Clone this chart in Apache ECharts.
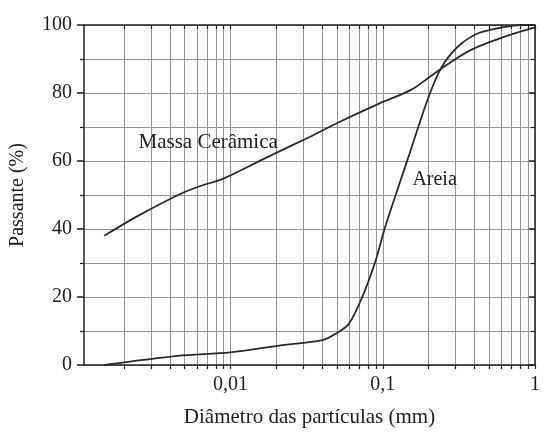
<!DOCTYPE html>
<html>
<head>
<meta charset="utf-8">
<script src="https://cdn.jsdelivr.net/npm/echarts@6/dist/echarts.min.js"></script>
<style>
html,body{margin:0;padding:0;background:#fff;}
#chart{width:543px;height:433px;}
</style>
</head>
<body>
<div id="chart"></div>
<script>
// ---- data ----
var massaX = [0.00148, 0.0025, 0.00468, 0.0065, 0.00896, 0.0172, 0.0328, 0.0515, 0.0938, 0.1545, 0.2, 0.264, 0.38, 0.626, 1];
var massaY = [38.0, 44.0, 50.3, 52.8, 54.8, 61.0, 67.0, 71.4, 76.8, 81.0, 84.5, 88.3, 92.7, 96.5, 99.3];
var areiaX = [0.00148, 0.0045, 0.01, 0.0209, 0.0401, 0.049, 0.0598, 0.073, 0.0892, 0.1026, 0.1205, 0.147, 0.198, 0.242, 0.311, 0.42, 0.626, 0.8, 1];
var areiaY = [0, 2.7, 3.7, 5.7, 7.3, 9.2, 12.1, 19.8, 30.3, 39.9, 49.5, 61.0, 78.3, 87.4, 93.6, 97.5, 99.4, 100, 100];
var seriesNames = ['Massa Cerâmica', 'Areia'];
var xLabelValues = [0.01, 0.1, 1];
var xLabelTexts = ['0,01', '0,1', '1'];
var xGridValues = [0.002,0.003,0.004,0.005,0.006,0.007,0.008,0.009,0.01,
                   0.02,0.03,0.04,0.05,0.06,0.07,0.08,0.09,0.1,
                   0.2,0.3,0.4,0.5,0.6,0.7,0.8,0.9,1];
var xName = 'Diâmetro das partículas (mm)';
var yName = 'Passante (%)';
// label anchor positions (data space)
var massaLabelAt = [0.00713, 65.3];
var areiaLabelAt = [0.219, 54.4];

function pairs(xs, ys){ return xs.map(function(x,i){ return [x, ys[i]]; }); }

var FONT = 'Liberation Serif';
var TXT = '#222';
var GRID = '#969696';
var AX = '#222';

var chart = echarts.init(document.getElementById('chart'), null, {renderer:'canvas'});
var xFmt = function(v){
  for (var i=0;i<xLabelValues.length;i++){
    if (Math.abs(Math.log10(v) - Math.log10(xLabelValues[i])) < 1e-6) return xLabelTexts[i];
  }
  return '';
};
var option = {
  backgroundColor: '#fff',
  animation: false,
  grid: {left: 83, right: 5, top: 25, bottom: 61, containLabel: false},
  xAxis: [{
    type: 'log', logBase: 10, min: 0.00109, max: 1, position: 'bottom',
    name: xName, nameLocation: 'middle', nameGap: 42,
    nameTextStyle: {fontFamily: FONT, fontSize: 21, color: TXT},
    axisLine: {show: true, onZero: false, lineStyle: {color: AX, width: 1.5}},
    axisTick: {show: true, inside: false, length: 4, customValues: xGridValues, lineStyle: {color: AX, width: 1.2}},
    axisLabel: {show: true, margin: 10, showMinLabel: false, fontFamily: FONT, fontSize: 20, color: TXT, formatter: xFmt},
    splitLine: {show: true, lineStyle: {color: GRID, width: 1}},
    minorTick: {show: false}, minorSplitLine: {show: false}
  }, {
    type: 'log', logBase: 10, min: 0.00109, max: 1, position: 'top',
    axisLine: {show: true, onZero: false, lineStyle: {color: AX, width: 1.5}},
    axisTick: {show: true, inside: true, length: 4, customValues: xGridValues, lineStyle: {color: AX, width: 1.2}},
    axisLabel: {show: false},
    splitLine: {show: false}
  }],
  yAxis: [{
    type: 'value', min: 0, max: 100, interval: 20, position: 'left',
    name: yName, nameLocation: 'middle', nameGap: 56, nameRotate: 90,
    nameTextStyle: {fontFamily: FONT, fontSize: 20, color: TXT},
    axisLine: {show: true, onZero: false, lineStyle: {color: AX, width: 1.5}},
    axisTick: {show: true, inside: false, length: 7, lineStyle: {color: AX, width: 1.5}},
    minorTick: {show: true, splitNumber: 2, length: 4, lineStyle: {color: AX, width: 1.2}},
    axisLabel: {margin: 12, fontFamily: FONT, fontSize: 20, color: TXT},
    splitLine: {show: true, lineStyle: {color: GRID, width: 1}},
    minorSplitLine: {show: true, lineStyle: {color: GRID, width: 1}}
  }, {
    type: 'value', min: 0, max: 100, interval: 20, position: 'right',
    axisLine: {show: true, onZero: false, lineStyle: {color: AX, width: 1.5}},
    axisTick: {show: true, inside: true, length: 6, lineStyle: {color: AX, width: 1.5}},
    minorTick: {show: true, splitNumber: 2, length: 4, lineStyle: {color: AX, width: 1.2}},
    axisLabel: {show: false},
    splitLine: {show: false}
  }],
  series: [{
    name: seriesNames[0], type: 'line', xAxisIndex: 0, yAxisIndex: 0,
    data: pairs(massaX, massaY), showSymbol: false, symbol: 'none',
    smooth: 0.35,
    lineStyle: {color: '#2a2a2a', width: 1.8},
    markPoint: {
      symbol: 'circle', symbolSize: 0, silent: true,
      label: {show: true, position: 'inside', fontFamily: FONT, fontSize: 21, color: TXT, formatter: seriesNames[0]},
      data: [{coord: massaLabelAt}]
    }
  }, {
    name: seriesNames[1], type: 'line', xAxisIndex: 0, yAxisIndex: 0,
    data: pairs(areiaX, areiaY), showSymbol: false, symbol: 'none',
    smooth: 0.3,
    lineStyle: {color: '#2a2a2a', width: 1.8},
    markPoint: {
      symbol: 'circle', symbolSize: 0, silent: true,
      label: {show: true, position: 'inside', fontFamily: FONT, fontSize: 20, color: TXT, formatter: seriesNames[1]},
      data: [{coord: areiaLabelAt}]
    }
  }]
};
chart.setOption(option);
</script>
</body>
</html>
